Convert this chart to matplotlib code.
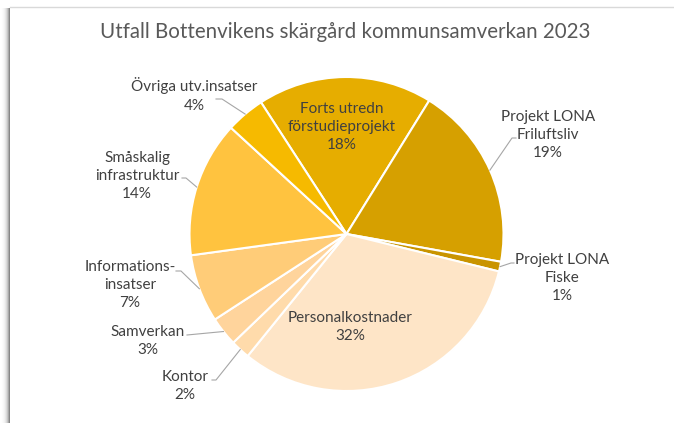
import numpy as np
import matplotlib
matplotlib.use("Agg")
import matplotlib.pyplot as plt
from matplotlib.lines import Line2D

plt.rcParams['font.family'] = ['Lato', 'DejaVu Sans']

labels = ["Forts utredn\nförstudieprojekt", "Projekt LONA\nFriluftsliv", "Projekt LONA\nFiske",
          "Personalkostnader", "Kontor", "Samverkan", "Informations-\ninsatser",
          "Småskalig\ninfrastruktur", "Övriga utv.insatser"]
values = [18, 19, 1, 32, 2, 3, 7, 14, 4]
colors = ["#E6AD00", "#D6A000", "#C99400", "#FEE5C7", "#FFDBAB", "#FFD49C",
          "#FFCC78", "#FFC33F", "#F6BA00"]

W, H = 674, 423
CX, CY, R = 346.5, 234, 157   # pie centre/radius in pixels

# label block centres (pixels) and leader elbow points (None = inside label)
label_pos = [(342, 127), (548, 135), (562, 278), (350, 327), (185, 386),
             (148, 341), (130, 285), (137, 176), (194, 95)]
leaders = [None, [(512, 138), (516, 138)], [(511, 263), (514, 263)], None,
           [(216, 380), (212, 380)], [(187, 335)], [(181, 271), (176, 271)],
           [(186, 178), (182, 178)], [(222, 99), (216, 99)]]

fig = plt.figure(figsize=(W / 100, H / 100), dpi=100)
fig.patch.set_facecolor("white")

# left shadow and top border of the chart box
sh = fig.add_axes([0, 0, 10 / W, (H - 8) / H])
grad = np.linspace(0, 1, 10) ** 2
sh.imshow(np.tile(grad, (50, 1)), cmap="Greys", vmin=0, vmax=1.8, aspect="auto",
          extent=(0, 1, 0, 1))
sh.axis("off")
fig.add_artist(Line2D([10 / W, 1], [1 - 7.5 / H, 1 - 7.5 / H], color="#D9D9D9", lw=1,
                      transform=fig.transFigure))

ax = fig.add_axes([(CX - R) / W, (H - CY - R) / H, 2 * R / W, 2 * R / H])
wedges, _ = ax.pie(values, colors=colors, startangle=123, counterclock=False, radius=1,
                   wedgeprops=dict(edgecolor="white", linewidth=1.5))
ax.set_xlim(-1, 1)
ax.set_ylim(-1, 1)
ax.axis("off")


def to_data(px, py):
    return (px - CX) / R, (CY - py) / R


for w, lab, v, pos, ld in zip(wedges, labels, values, label_pos, leaders):
    x, y = to_data(*pos)
    ax.text(x, y, f"{lab}\n{v}%", ha="center", va="center", fontsize=11,
            color="#404040", linespacing=1.38, clip_on=False)
    if ld:
        a = np.deg2rad((w.theta1 + w.theta2) / 2)
        pts = [(np.cos(a), np.sin(a))] + [to_data(*p) for p in ld]
        xs, ys = zip(*pts)
        ax.plot(xs, ys, color="#A6A6A6", lw=0.8, clip_on=False)

fig.text(345 / W, 1 - 32 / H, "Utfall Bottenvikens skärgård kommunsamverkan 2023",
         ha="center", va="center", fontsize=14.8, color="#595959")

fig.savefig("out.png", dpi=100)
